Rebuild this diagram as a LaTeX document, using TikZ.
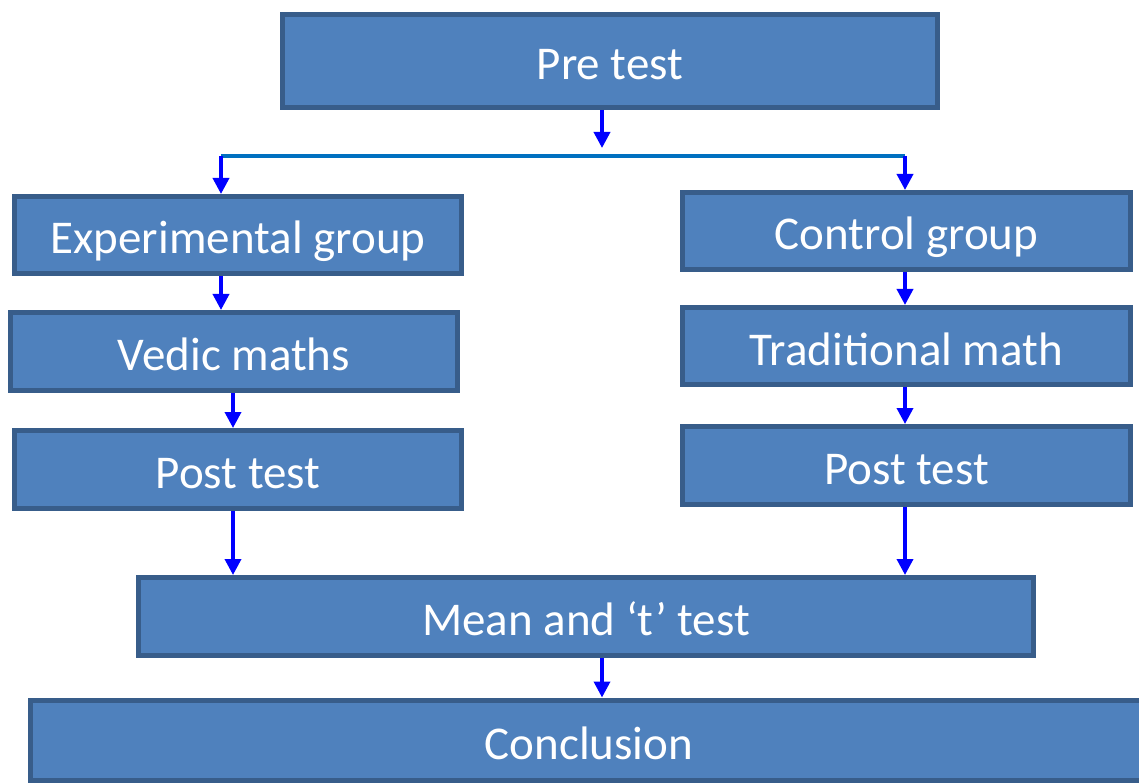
\documentclass[tikz,border=0pt]{standalone}
\usepackage{fontspec}
\setmainfont{Carlito}
\usetikzlibrary{arrows.meta}
\definecolor{boxfill}{HTML}{4F81BD}
\definecolor{boxline}{HTML}{385D8A}
\definecolor{barline}{HTML}{0070C0}
\tikzset{
  box/.style={draw=boxline,fill=boxfill,line width=5pt,text=white,inner sep=0pt,
    text height=38pt,text depth=0pt,font=\fontsize{47}{47}\selectfont},
  flow/.style={draw=blue,line width=3.6pt,-{Triangle[length=16pt,width=16pt]}}
}
\begin{document}
\begin{tikzpicture}[x=1pt,y=-1pt]
        \clip (0,0) rectangle (1139,783);
        \node[box,minimum width=655pt,minimum height=93pt] (pre) at (610,61) {Pre test};
        \node[box,minimum width=447pt,minimum height=77pt] (exp) at (238,235) {Experimental group};
        \node[box,minimum width=447pt,minimum height=78pt] (vedic) at (234,351.5) {Vedic maths};
        \node[box,minimum width=447pt,minimum height=78pt] (postL) at (238,469.5) {Post test};
        \node[box,minimum width=448pt,minimum height=77pt] (ctrl) at (906.5,231) {Control group};
        \node[box,minimum width=448pt,minimum height=77pt] (trad) at (906.5,346) {Traditional math};
        \node[box,minimum width=448pt,minimum height=78pt] (postR) at (906.5,465.5) {Post test};
        \node[box,minimum width=895pt,minimum height=78pt] (mean) at (586,616.5) {Mean and ‘t’ test};
        \node[box,minimum width=1117pt,minimum height=80pt] (concl) at (589,740) {Conclusion};
        \coordinate (barL) at (221,156);
        \coordinate (barR) at (905,156);
        \coordinate (barM) at (602,148);
        \coordinate (lft) at (233,0);
        \coordinate (mid) at (602,0);
        \draw[barline,line width=4pt] (barL) -- (barR);
        \draw[flow] (pre.south -| barM) -- (barM);
        \draw[flow] (barL) -- (exp.north -| barL);
        \draw[flow] (barR) -- (ctrl.north -| barR);
        \draw[flow] (exp.south -| barL) -- (vedic.north -| barL);
        \foreach \a/\b/\c in {vedic/postL/lft, postL/mean/lft, ctrl/trad/barR, trad/postR/barR, postR/mean/barR, mean/concl/mid}
          \draw[flow] (\a.south -| \c) -- (\b.north -| \c);
        \end{tikzpicture}
\end{document}
